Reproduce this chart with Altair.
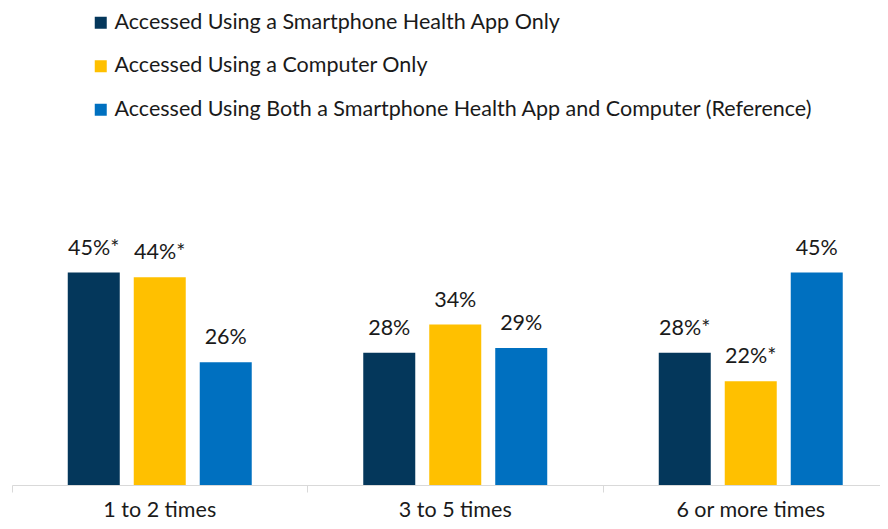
import altair as alt
import pandas as pd

categories = ["1 to 2 times", "3 to 5 times", "6 or more times"]
series = [
    "Accessed Using a Smartphone Health App Only",
    "Accessed Using a Computer Only",
    "Accessed Using Both a Smartphone Health App and Computer (Reference)",
]
app_only = [45, 28, 28]
computer_only = [44, 34, 22]
both = [26, 29, 45]
app_only_labels = ["45%*", "28%", "28%*"]
computer_only_labels = ["44%*", "34%", "22%*"]
both_labels = ["26%", "29%", "45%"]
colors = ["#04375B", "#FFC000", "#0070C0"]

rows = []
for s, vals, labs in zip(series, [app_only, computer_only, both],
                         [app_only_labels, computer_only_labels, both_labels]):
    for c, v, l in zip(categories, vals, labs):
        rows.append({"category": c, "series": s, "value": v, "label": l})
df = pd.DataFrame(rows)

FONT = "Lato"
FS = 21.5

x = alt.X("category:N", sort=categories, title=None,
          scale=alt.Scale(paddingInner=0, paddingOuter=0),
          axis=alt.Axis(bandPosition=0, labelAngle=0,
                        domainColor="#d9d9d9", tickColor="#d9d9d9", tickSize=7,
                        labelPadding=7, labelFontSize=FS, labelFont=FONT,
                        labelColor="#1a1a1a", grid=False))
xo = alt.XOffset("series:N", sort=series,
                 scale=alt.Scale(paddingInner=0.212, paddingOuter=0.845))
y = alt.Y("value:Q", scale=alt.Scale(domain=[0, 50]), axis=None)

bars = alt.Chart(df).mark_bar().encode(
    x=x, xOffset=xo, y=y,
    color=alt.Color("series:N", sort=series,
                    scale=alt.Scale(domain=series, range=colors),
                    legend=alt.Legend(title=None, orient="none", legendX=78, legendY=-237,
                                      symbolType="square", symbolSize=144,
                                      symbolStrokeWidth=0, labelFontSize=FS,
                                      labelFont=FONT, labelColor="#1a1a1a",
                                      labelLimit=0, rowPadding=20.5, labelOffset=3,
                                      padding=0)),
)

text = alt.Chart(df).mark_text(baseline="alphabetic", dy=-18, fontSize=FS,
                               font=FONT, color="#1a1a1a").encode(
    x=x, xOffset=xo, y=y, text="label:N")

chart = alt.layer(bars, text).properties(
    width=886.5, height=236,
    autosize=alt.AutoSizeParams(type="none"),
    padding={"left": 4, "top": 241, "right": -18.5, "bottom": 36},
).configure_view(stroke=None)

chart.save("out.html", embed_options={"renderer": "svg", "actions": False})
